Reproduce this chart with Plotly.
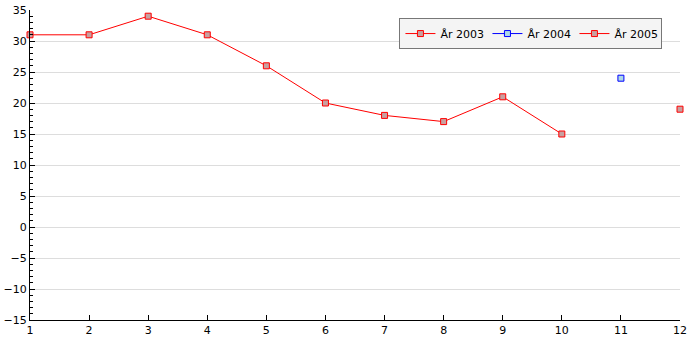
import plotly.graph_objects as go

x2003 = [1, 2, 3, 4, 5, 6, 7, 8, 9, 10]
y2003 = [31, 31, 34, 31, 26, 20, 18, 17, 21, 15]
x2004 = [11]
y2004 = [24]
x2005 = [12]
y2005 = [19]
series_names = ["År 2003", "År 2004", "År 2005"]

fig = go.Figure()
fig.add_trace(go.Scatter(x=x2003, y=y2003, name=series_names[0], mode="lines+markers",
                         line=dict(color="#ff0000", width=1),
                         marker=dict(symbol="square", size=6, color="#c8a0a0",
                                     line=dict(color="#ff0000", width=1)),
                         cliponaxis=False))
fig.add_trace(go.Scatter(x=x2004, y=y2004, name=series_names[1], mode="lines+markers",
                         line=dict(color="#0000ff", width=1),
                         marker=dict(symbol="square", size=6, color="#add8e6",
                                     line=dict(color="#0000ff", width=1)),
                         cliponaxis=False))
fig.add_trace(go.Scatter(x=x2005, y=y2005, name=series_names[2], mode="lines+markers",
                         line=dict(color="#ff0000", width=1),
                         marker=dict(symbol="square", size=6, color="#c8a0a0",
                                     line=dict(color="#ff0000", width=1)),
                         cliponaxis=False))

fig.update_layout(
    width=700, height=350,
    margin=dict(l=30, r=20, t=10, b=30, autoexpand=False),
    paper_bgcolor="white", plot_bgcolor="white",
    font=dict(family="DejaVu Sans", size=11, color="black"),
    legend=dict(orientation="h", x=0.973, y=0.974, xanchor="right", yanchor="top",
                bgcolor="#f4f4f4", bordercolor="#777777", borderwidth=1,
                entrywidth=42, itemwidth=30, font=dict(size=11)),
    xaxis=dict(range=[1, 12], dtick=1, tick0=1, showgrid=False, zeroline=False,
               showline=True, linecolor="black", linewidth=1, automargin=False,
               ticks="inside", ticklen=5, tickcolor="black"),
    yaxis=dict(range=[-15, 35], dtick=5, showgrid=True, gridcolor="#dddddd",
               zeroline=False, showline=True, linecolor="black", linewidth=1,
               automargin=False,
               ticks="inside", ticklen=5, tickcolor="black",
               minor=dict(dtick=1, ticks="inside", ticklen=3, tickcolor="black", showgrid=False)),
)

fig.write_html("out.html")
